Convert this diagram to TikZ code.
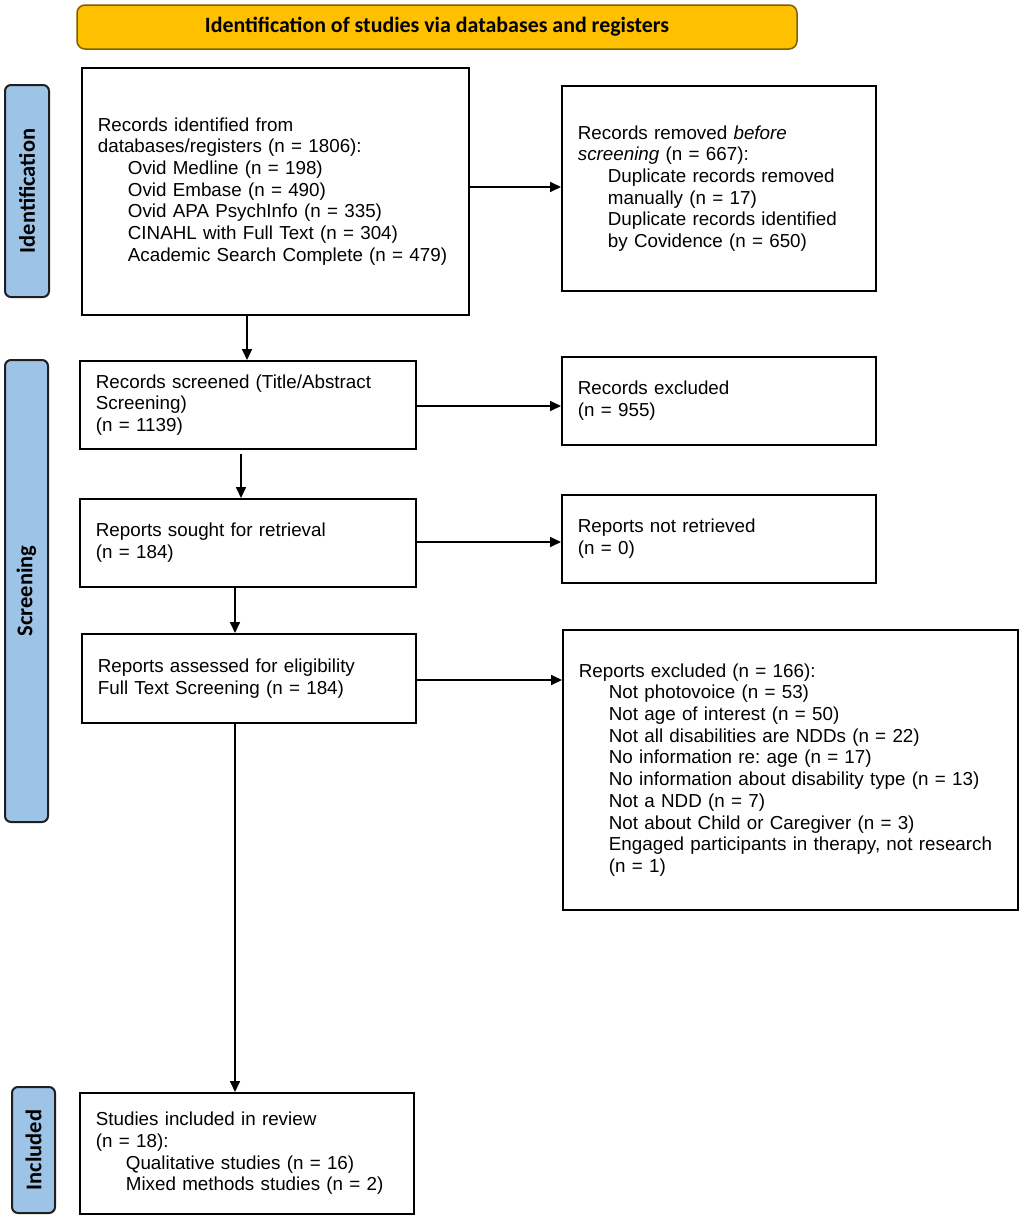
\documentclass[tikz,border=0pt]{standalone}
\usepackage{fontspec}
\setmainfont{Liberation Sans}
\newfontfamily\headfont{Carlito}
\usetikzlibrary{arrows.meta}
\definecolor{bannerfill}{HTML}{FFC000}
\definecolor{bannerdraw}{HTML}{7F6000}
\definecolor{phasefill}{HTML}{9DC3E6}
\definecolor{phasedraw}{HTML}{1F1F1F}
\newcommand{\ind}{\hspace*{30pt}}
\frenchspacing
\begin{document}
\begin{tikzpicture}[x=1pt,y=-1pt,
  flowbox/.style={draw=black, line width=1.8pt, anchor=north west, inner xsep=16pt, inner ysep=0pt,
    align=left, font=\fontsize{18.8}{21.7}\selectfont},
  arr/.style={line width=1.7pt, -{Triangle[length=11pt,width=10pt]}},
  phase/.style={draw=phasedraw, fill=phasefill, line width=2pt, rounded corners=6pt, rotate=90,
    font=\headfont\bfseries\fontsize{22.5}{26}\selectfont},
  banner/.style={draw=bannerdraw, fill=bannerfill, rounded corners=8pt, line width=1.5pt,
    font=\headfont\bfseries\fontsize{21.9}{24}\selectfont}
]
\useasboundingbox (0,0) rectangle (1022,1218);

\node[banner, minimum width=720pt, minimum height=44pt] (banner) at (437,27)
  {Identification of studies via databases and registers};

\node[phase, minimum width=212pt, minimum height=44pt] (pid) at (27,191) {Identification};
\node[phase, minimum width=462pt, minimum height=43pt] (pscr) at (26.5,591) {Screening};
\node[phase, minimum width=126pt, minimum height=43pt] (pinc) at (33.5,1150) {Included};

\node[flowbox, text width=355pt, minimum height=247pt] (b1) at (81,67)
  {Records identified from\\
   databases/registers (n = 1806):\\
   \ind Ovid Medline (n = 198)\\
   \ind Ovid Embase (n = 490)\\
   \ind Ovid APA PsychInfo (n = 335)\\
   \ind CINAHL with Full Text (n = 304)\\
   \ind Academic Search Complete (n = 479)};

\node[flowbox, text width=282pt, minimum height=205pt] (b2) at (561,85)
  {Records removed \textit{before}\\
   \textit{screening} (n = 667):\\
   \ind Duplicate records removed\\
   \ind manually (n = 17)\\
   \ind Duplicate records identified\\
   \ind by Covidence (n = 650)};

\node[flowbox, text width=304pt, minimum height=88pt] (b3) at (79,360)
  {Records screened (Title/Abstract\\ Screening)\\ (n = 1139)};

\node[flowbox, text width=282pt, minimum height=88pt] (e1) at (561,356)
  {Records excluded\\ (n = 955)};

\node[flowbox, text width=304pt, minimum height=88pt] (b4) at (79,498)
  {Reports sought for retrieval\\ (n = 184)};

\node[flowbox, text width=282pt, minimum height=88pt] (e2) at (561,494)
  {Reports not retrieved\\ (n = 0)};

\node[flowbox, text width=302pt, minimum height=89pt] (b5) at (81,633)
  {Reports assessed for eligibility\\ Full Text Screening (n = 184)};

\node[flowbox, text width=423pt, minimum height=280pt] (e3) at (562,629)
  {Reports excluded (n = 166):\\
   \ind Not photovoice (n = 53)\\
   \ind Not age of interest (n = 50)\\
   \ind Not all disabilities are NDDs (n = 22)\\
   \ind No information re: age (n = 17)\\
   \ind No information about disability type (n = 13)\\
   \ind Not a NDD (n = 7)\\
   \ind Not about Child or Caregiver (n = 3)\\
   \ind Engaged participants in therapy, not research\\
   \ind (n = 1)};

\node[flowbox, text width=302pt, minimum height=121pt] (b6) at (79,1092)
  {Studies included in review\\ (n = 18):\\
   \ind Qualitative studies (n = 16)\\
   \ind Mixed methods studies (n = 2)};

\coordinate (xa) at (247,0);
\coordinate (xb) at (241,0);
\coordinate (xc) at (235,0);
\coordinate (ya) at (0,187);
\coordinate (yb) at (0,406);
\coordinate (yc) at (0,542);
\coordinate (yd) at (0,680);

\draw[arr] (b1.south -| xa) -- (b3.north -| xa);
\draw[arr, shorten <=4pt] (b3.south -| xb) -- (b4.north -| xb);
\draw[arr] (b4.south -| xc) -- (b5.north -| xc);
\draw[arr] (b5.south -| xc) -- (b6.north -| xc);

\draw[arr] (b1.east |- ya) -- (b2.west |- ya);
\draw[arr] (b3.east |- yb) -- (e1.west |- yb);
\draw[arr] (b4.east |- yc) -- (e2.west |- yc);
\draw[arr] (b5.east |- yd) -- (e3.west |- yd);
\end{tikzpicture}
\end{document}
